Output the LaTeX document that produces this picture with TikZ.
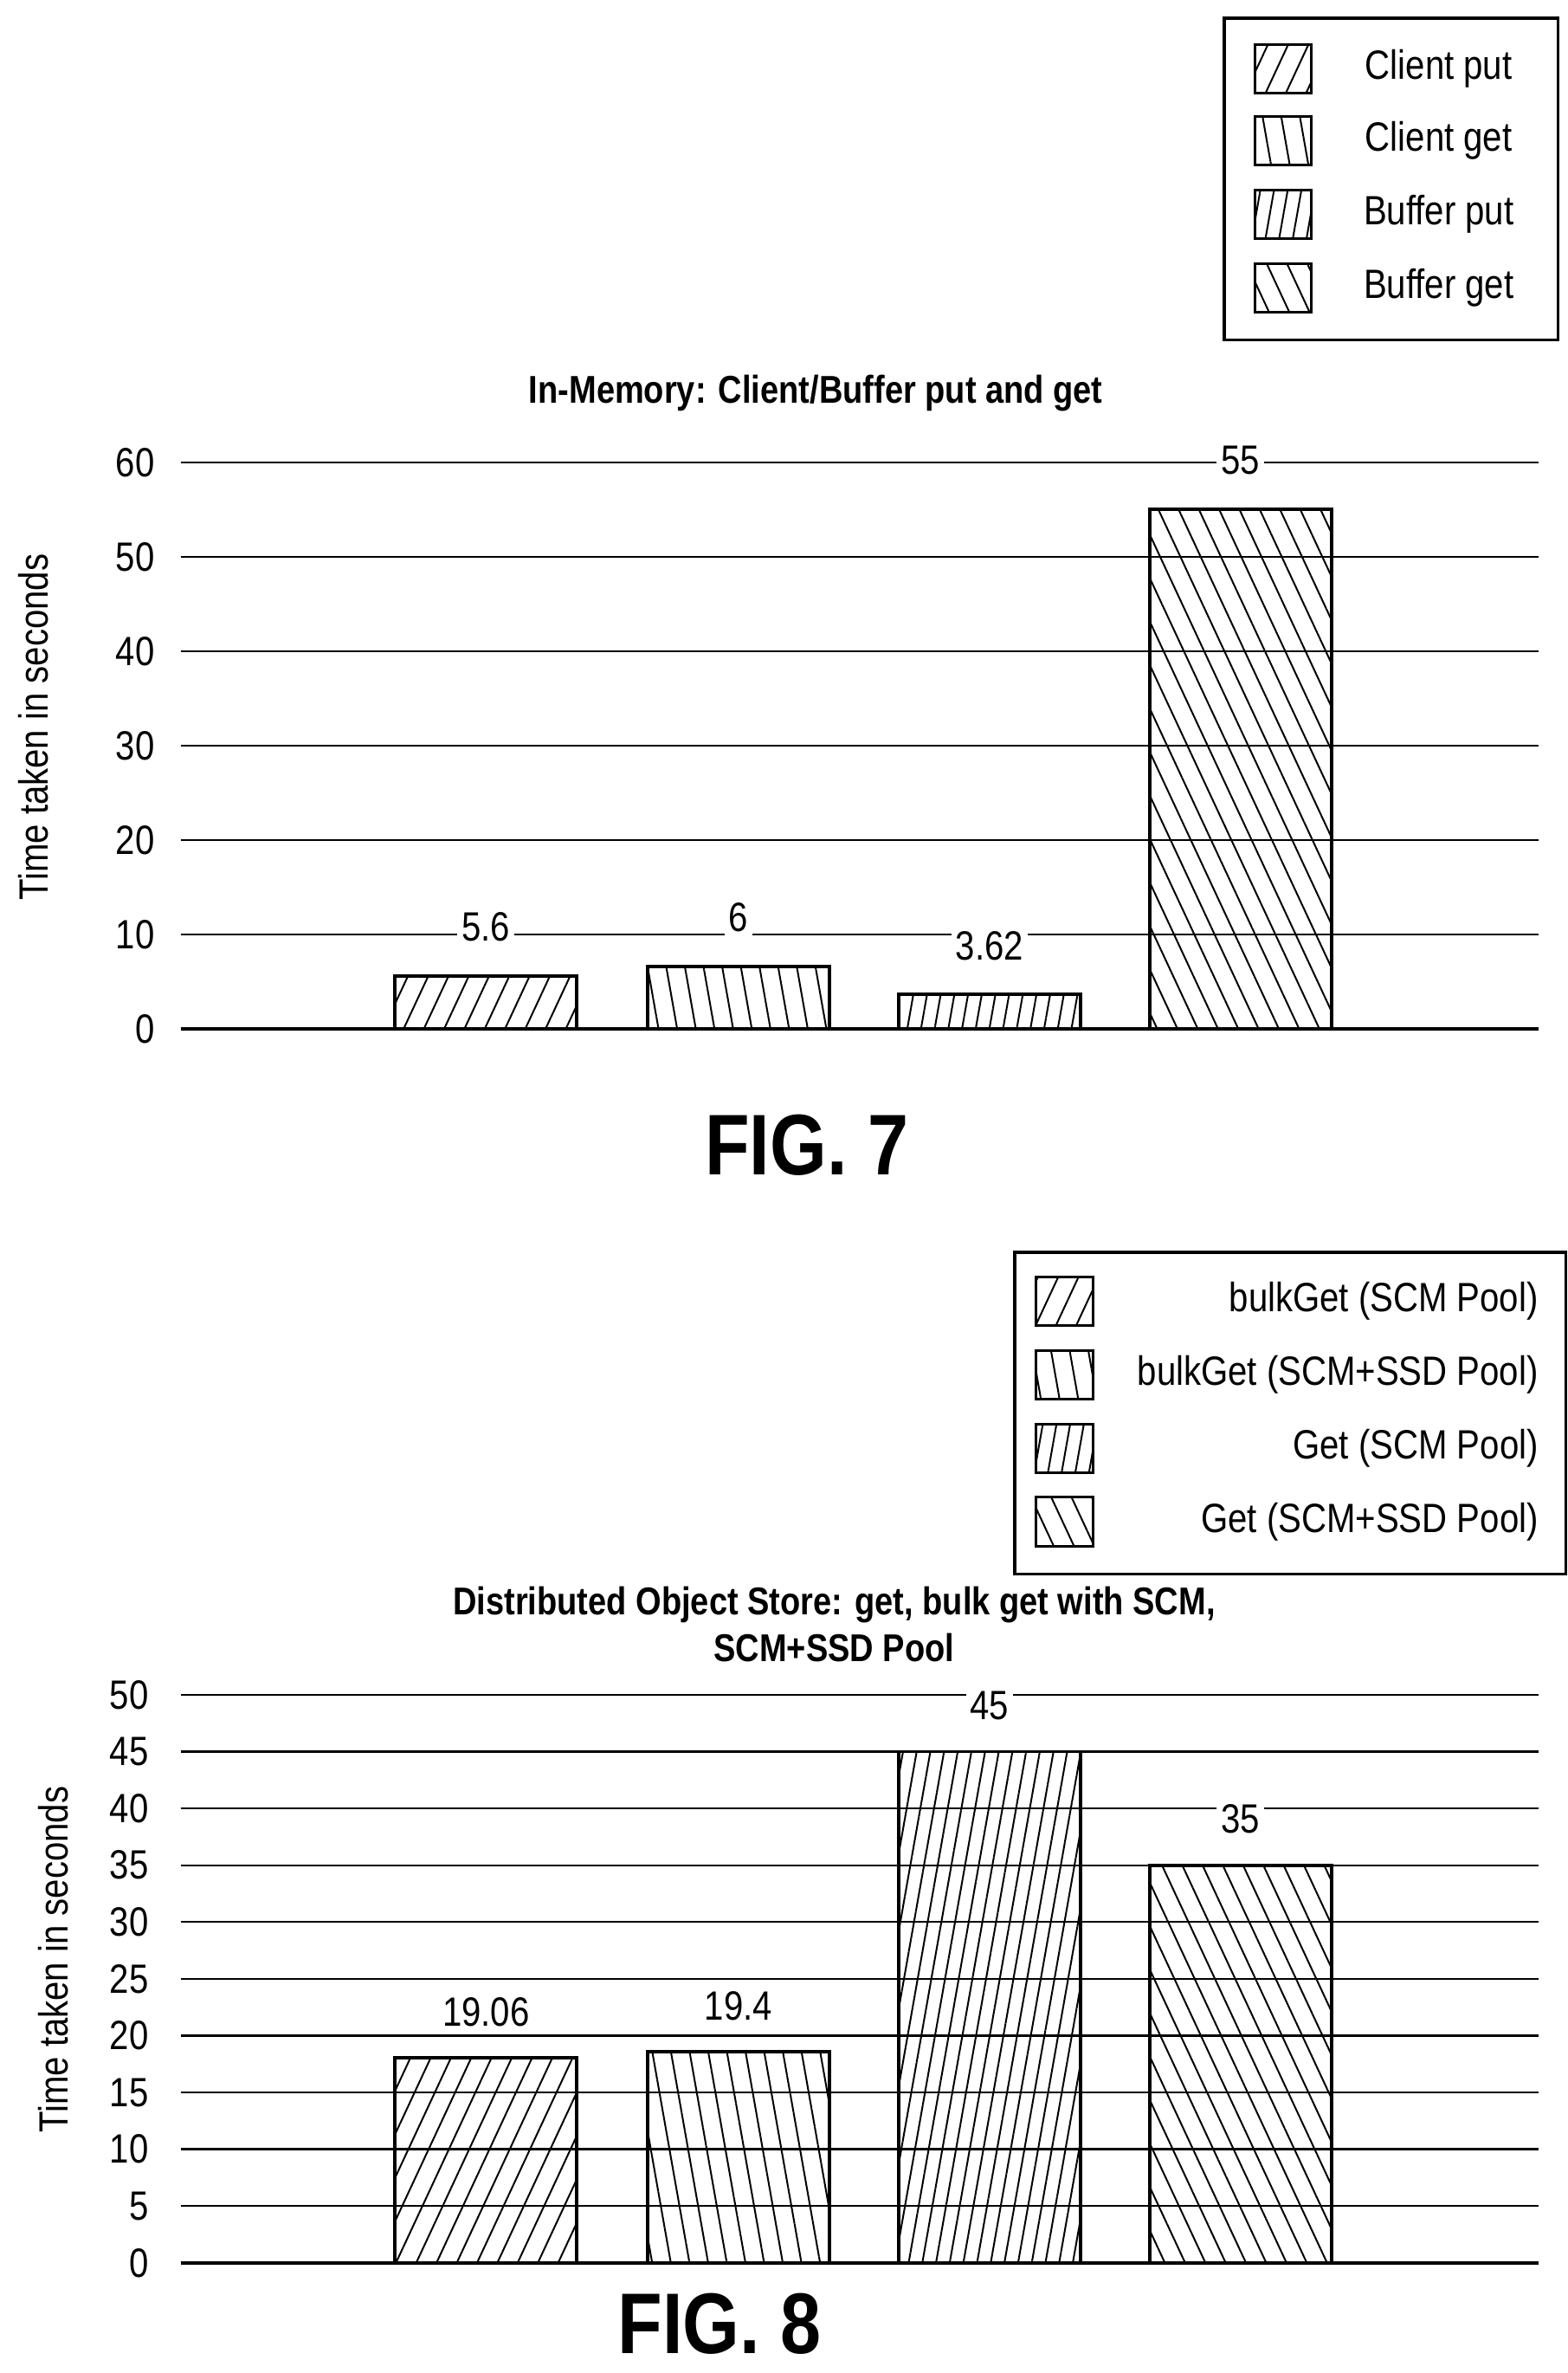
\documentclass[tikz,border=0pt]{standalone}
\usepackage{fontspec}
\setmainfont{Liberation Sans}[FakeStretch=0.85]
\usetikzlibrary{patterns.meta}
\begin{document}
\begin{tikzpicture}
[x=0.025cm,y=-0.025cm,
  bardecorate/.style={draw,line width=1.6pt},%
  griddecorate/.style={line width=0.9pt},%
  boxdecorate/.style={draw,line width=1.4pt},%
  pA/.style={pattern={Lines[angle=65,distance=0.3cm,line width=0.8pt]}},%
  pB/.style={pattern={Lines[angle=100,distance=0.3cm,line width=0.8pt]}},%
  pC/.style={pattern={Lines[angle=80,distance=0.22cm,line width=0.8pt]}},%
  pD/.style={pattern={Lines[angle=115,distance=0.3cm,line width=0.8pt]}},%
  ticklabel/.style={anchor=east,font=\fontsize{19}{20}\selectfont},%
  valuelabel/.style={fill=white,inner sep=2pt,font=\fontsize{19}{20}\selectfont},%
  legendtext/.style={font=\fontsize{19}{20}\selectfont},%
  titletext/.style={font=\bfseries\fontsize{18}{22}\selectfont,align=center},%
  figtext/.style={font=\bfseries\fontsize{40}{42}\selectfont,inner sep=0pt}]
\useasboundingbox (0,0) rectangle (1024,1550);
% FIG. 7 grid and axis
\foreach \v in {0,10,...,60}{
  \draw[griddecorate] (118,672-6.167*\v) -- (1005,672-6.167*\v);
  \node[ticklabel] (t7\v) at (106,672-6.167*\v) {\v};}
\draw[line width=1.6pt] (118,672) -- (1005,672);
\node[rotate=90,legendtext] (ylab7) at (22,475) {Time taken in seconds};
\node[titletext] (title7) at (533,257) {In-Memory: Client/Buffer put and get};
% FIG. 7 bars
\foreach \x/\h/\p/\t in {258/5.6/pA/5.6,423/6.6/pB/6,587/3.62/pC/3.62,751/55/pD/55}{
  \draw[bardecorate,\p] (\x,672) rectangle (\x+119,672-6.167*\h);
  \node[valuelabel] (v7\x) at (\x+59.5,672-6.167*\h-32) {\t};}
% FIG. 7 legend
\node[boxdecorate,minimum width=218*0.025cm,minimum height=210*0.025cm] (leg7) at (909,117) {};
\foreach \y/\p/\t in {45/pA/Client put,92/pB/Client get,140/pC/Buffer put,188/pD/Buffer get}{
  \draw[bardecorate,line width=1.2pt,\p] (820,\y-16) rectangle (857,\y+16);
  \node[legendtext] (l7\y) at (940,\y) {\t};}
\node[figtext] (fig7) at (527,748) {FIG. 7};
% FIG. 8 grid and axis
\foreach \v in {0,5,...,50}{
  \draw[griddecorate] (118,1478-7.42*\v) -- (1005,1478-7.42*\v);
  \node[ticklabel] (t8\v) at (102,1478-7.42*\v) {\v};}
\draw[line width=1.6pt] (118,1478) -- (1005,1478);
\node[rotate=90,legendtext] (ylab8) at (35,1280) {Time taken in seconds};
\node[titletext] (title8) at (545,1061) {Distributed Object Store: get, bulk get with SCM,\\SCM+SSD Pool};
% FIG. 8 bars
\foreach \x/\h/\p/\t in {258/18.06/pA/19.06,423/18.6/pB/19.4,587/45/pC/45,751/35/pD/35}{
  \draw[bardecorate,\p] (\x,1478) rectangle (\x+119,1478-7.42*\h);
  \node[valuelabel] (v8\x) at (\x+59.5,1478-7.42*\h-30) {\t};}
% FIG. 8 legend
\node[boxdecorate,minimum width=360*0.025cm,minimum height=210*0.025cm] (leg8) at (843,923) {};
\foreach \y/\p/\t in {850/pA/bulkGet (SCM Pool),898/pB/bulkGet (SCM+SSD Pool),946/pC/Get (SCM Pool),994/pD/Get (SCM+SSD Pool)}{
  \draw[bardecorate,line width=1.2pt,\p] (677,\y-16) rectangle (714,\y+16);
  \node[legendtext,anchor=east] (l8\y) at (1010,\y) {\t};}
\node[figtext] (fig8) at (470,1518) {FIG. 8};
\end{tikzpicture}
\end{document}
